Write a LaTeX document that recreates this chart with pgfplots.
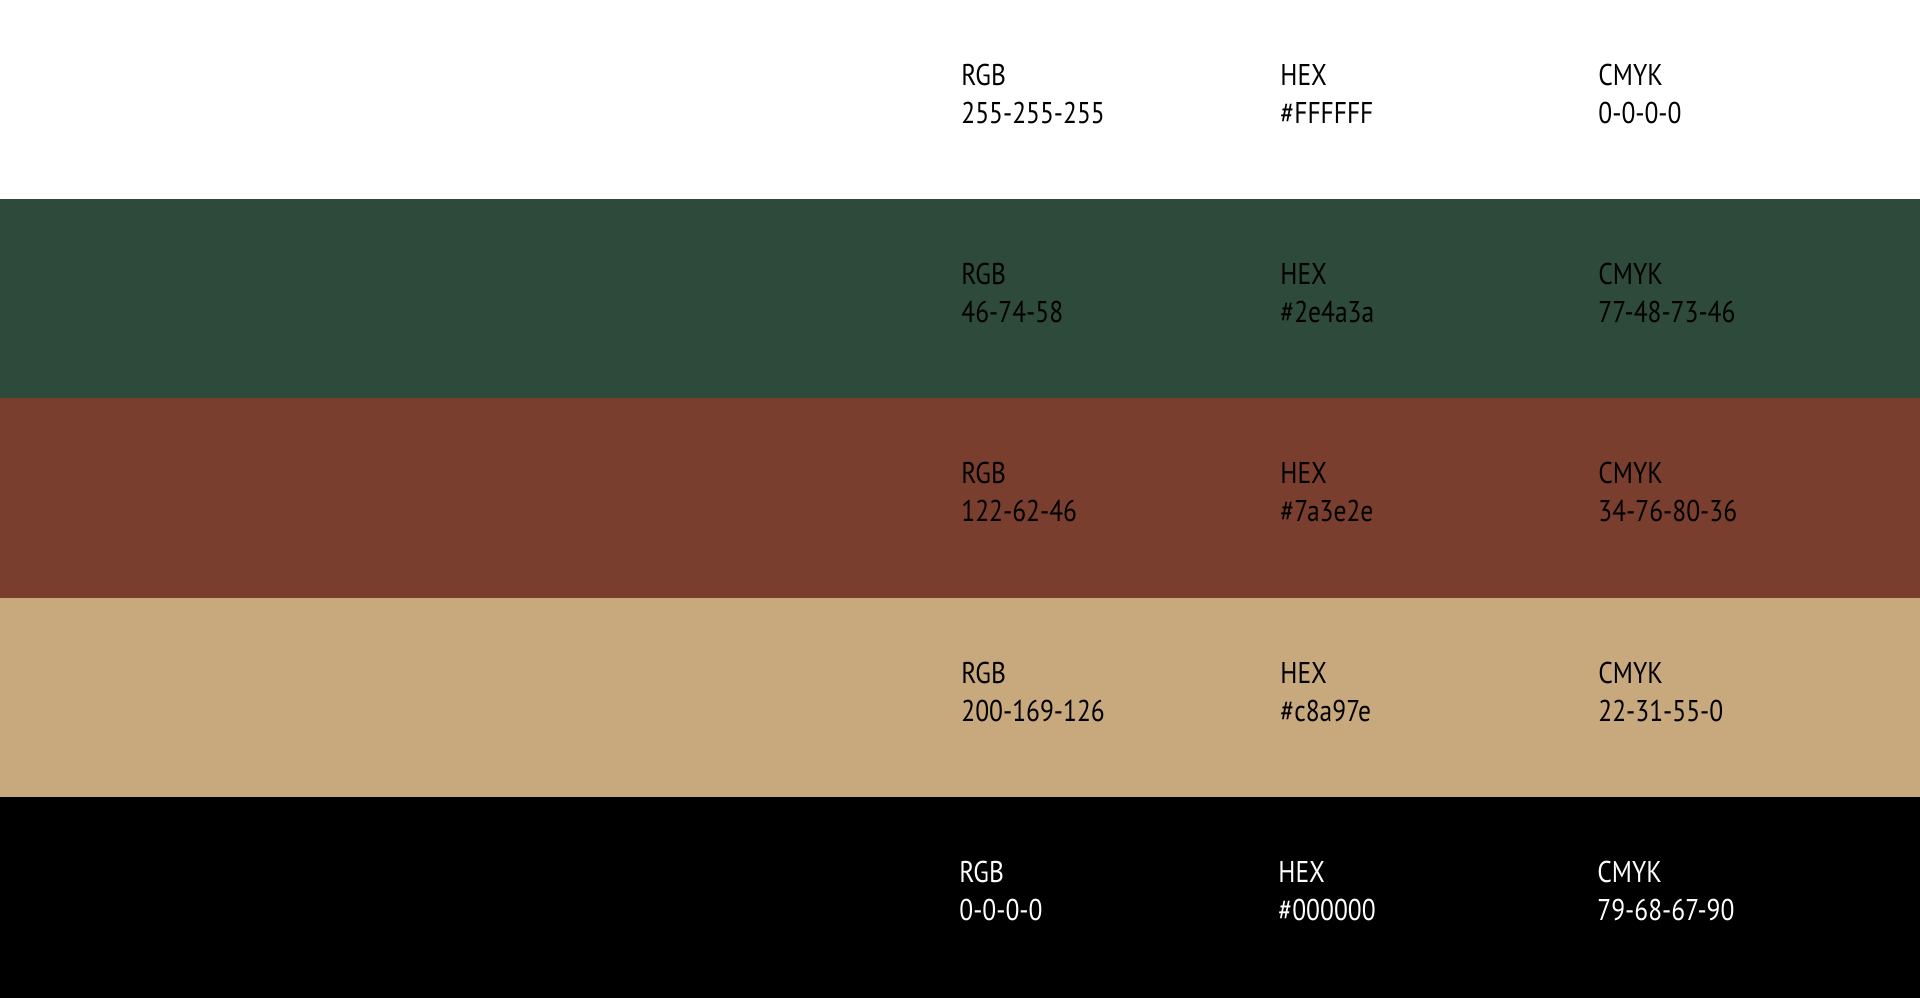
\documentclass[border=0pt]{standalone}
\usepackage{fontspec}
\setmainfont{PT Sans}[FakeStretch=0.85]
\usepackage{pgfplots}
\pgfplotsset{compat=1.18}
\definecolor{cwhite}{HTML}{FFFFFF}
\definecolor{cgreen}{HTML}{2E4A3A}
\definecolor{cbrown}{HTML}{7A3E2E}
\definecolor{ctan}{HTML}{C8A97E}
\definecolor{cblack}{HTML}{000000}
\tikzset{lbl/.style={anchor=base west, inner sep=0pt, font=\fontsize{15}{18}\selectfont}}
\begin{document}
\begin{tikzpicture}
\begin{axis}[
  width=960pt, height=498.5pt, scale only axis,
  xmin=0, xmax=1920, ymin=0, ymax=997, y dir=reverse,
  hide axis, clip=true,
]
\addplot[fill=cwhite, draw=none] coordinates {(-10,-10) (1930,-10) (1930,199.4) (-10,199.4)} -- cycle;
\addplot[fill=cgreen, draw=none] coordinates {(-10,199) (1930,199) (1930,398.8) (-10,398.8)} -- cycle;
\addplot[fill=cbrown, draw=none] coordinates {(-10,398.4) (1930,398.4) (1930,598.2) (-10,598.2)} -- cycle;
\addplot[fill=ctan, draw=none] coordinates {(-10,597.8) (1930,597.8) (1930,797.6) (-10,797.6)} -- cycle;
\addplot[fill=cblack, draw=none] coordinates {(-10,797.2) (1930,797.2) (1930,1010) (-10,1010)} -- cycle;

% band 1
\node[lbl, text=black] at (axis cs:961,85) {RGB};
\node[lbl, text=black] at (axis cs:961,123) {255-255-255};
\node[lbl, text=black] at (axis cs:1280,85) {HEX};
\node[lbl, text=black] at (axis cs:1280,123) {\#FFFFFF};
\node[lbl, text=black] at (axis cs:1598,85) {CMYK};
\node[lbl, text=black] at (axis cs:1598,123) {0-0-0-0};
% band 2
\node[lbl, text=black] at (axis cs:961,284.4) {RGB};
\node[lbl, text=black] at (axis cs:961,322.4) {46-74-58};
\node[lbl, text=black] at (axis cs:1280,284.4) {HEX};
\node[lbl, text=black] at (axis cs:1280,322.4) {\#2e4a3a};
\node[lbl, text=black] at (axis cs:1598,284.4) {CMYK};
\node[lbl, text=black] at (axis cs:1598,322.4) {77-48-73-46};
% band 3
\node[lbl, text=black] at (axis cs:961,483.8) {RGB};
\node[lbl, text=black] at (axis cs:961,521.8) {122-62-46};
\node[lbl, text=black] at (axis cs:1280,483.8) {HEX};
\node[lbl, text=black] at (axis cs:1280,521.8) {\#7a3e2e};
\node[lbl, text=black] at (axis cs:1598,483.8) {CMYK};
\node[lbl, text=black] at (axis cs:1598,521.8) {34-76-80-36};
% band 4
\node[lbl, text=black] at (axis cs:961,683.2) {RGB};
\node[lbl, text=black] at (axis cs:961,721.2) {200-169-126};
\node[lbl, text=black] at (axis cs:1280,683.2) {HEX};
\node[lbl, text=black] at (axis cs:1280,721.2) {\#c8a97e};
\node[lbl, text=black] at (axis cs:1598,683.2) {CMYK};
\node[lbl, text=black] at (axis cs:1598,721.2) {22-31-55-0};
% band 5
\node[lbl, text=white] at (axis cs:959,882.6) {RGB};
\node[lbl, text=white] at (axis cs:959,920.6) {0-0-0-0};
\node[lbl, text=white] at (axis cs:1278,882.6) {HEX};
\node[lbl, text=white] at (axis cs:1278,920.6) {\#000000};
\node[lbl, text=white] at (axis cs:1597,882.6) {CMYK};
\node[lbl, text=white] at (axis cs:1597,920.6) {79-68-67-90};
\end{axis}
\pgfresetboundingbox
\useasboundingbox (current axis.south west) rectangle (current axis.north east);
\end{tikzpicture}
\end{document}
